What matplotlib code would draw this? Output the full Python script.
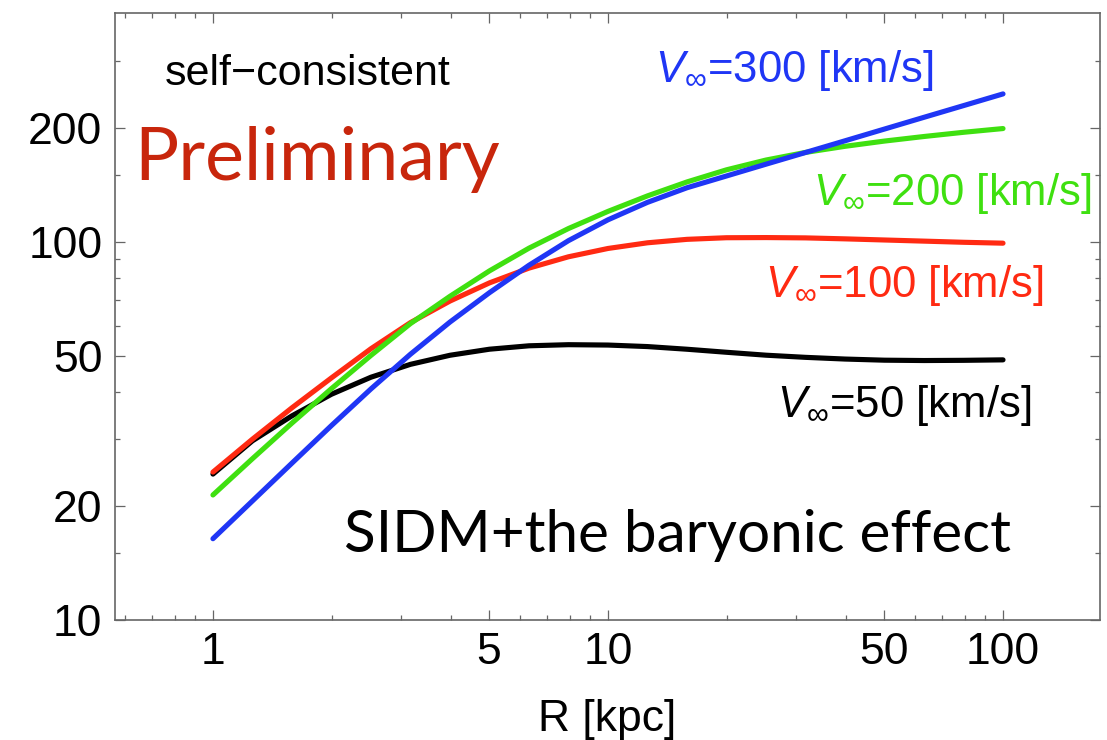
import matplotlib
matplotlib.use("Agg")
import matplotlib.pyplot as plt
from matplotlib.ticker import NullFormatter

plt.rcParams["font.family"] = ["Liberation Sans", "DejaVu Sans"]
plt.rcParams["mathtext.fontset"] = "custom"
plt.rcParams["mathtext.rm"] = "Liberation Sans"
plt.rcParams["mathtext.it"] = "Liberation Sans:italic"
plt.rcParams["mathtext.fallback"] = "stixsans"

# Radius grid [kpc], 0.1 dex steps from 1 to 100 kpc
radius = [1.0, 1.259, 1.585, 1.995, 2.512, 3.162, 3.981, 5.012, 6.310, 7.943, 10.0,
          12.59, 15.85, 19.95, 25.12, 31.62, 39.81, 50.12, 63.10, 79.43, 100.0]

# Circular velocity [km/s] for each asymptotic velocity
v_50 = [24.3, 29.76, 34.64, 39.5, 43.82, 47.39, 50.08, 51.96, 53.05, 53.41, 53.29,
        52.80, 51.95, 51.0, 50.1, 49.45, 48.94, 48.6, 48.5, 48.56, 48.7]
v_100 = [24.6, 30.06, 36.38, 43.64, 52.12, 61.09, 69.65, 77.80, 85.11, 91.19, 95.92,
         99.29, 101.4, 102.4, 102.5, 102.3, 101.7, 101.0, 100.3, 99.6, 99.06]
v_200 = [21.4, 26.69, 33.15, 40.88, 50.04, 60.73, 71.7, 83.7, 96.1, 108.3, 120.2,
         132.1, 143.8, 154.8, 164.3, 172.1, 178.6, 184.4, 189.6, 194.5, 199.0]
v_300 = [16.4, 20.64, 25.98, 32.65, 40.81, 50.4, 61.3, 73.3, 86.6, 100.6, 114.2,
         127.0, 138.8, 149.1, 160.2, 172.0, 184.7, 198.4, 213.1, 228.8, 245.7]

series = [
    (v_50, "black", r"$V_{\infty}$=50 [km/s]"),
    (v_100, "#ff2a12", r"$V_{\infty}$=100 [km/s]"),
    (v_200, "#3fe010", r"$V_{\infty}$=200 [km/s]"),
    (v_300, "#1f36f5", r"$V_{\infty}$=300 [km/s]"),
]

x_major = [1, 5, 10, 50, 100]
x_minor = [0.6, 0.7, 0.8, 0.9, 2, 3, 4, 6, 7, 8, 9, 20, 30, 40, 60, 70, 80, 90]
y_major = [10, 20, 50, 100, 200]
y_minor = [15, 30, 40, 60, 70, 80, 90, 150, 300]

fig = plt.figure(figsize=(11.07, 7.40), dpi=100)
ax = fig.add_axes([115 / 1107, 120 / 740, 985 / 1107, 607 / 740])
ax.set_xscale("log")
ax.set_yscale("log")

for vals, col, _ in series:
    ax.plot(radius, vals, color=col, lw=3.7, solid_capstyle="round",
            solid_joinstyle="round")

ax.set_xlim(0.565, 176)
ax.set_ylim(10, 402)

ax.set_xticks(x_major)
ax.set_xticklabels([str(v) for v in x_major])
ax.set_xticks(x_minor, minor=True)
ax.set_yticks(y_major)
ax.set_yticklabels([str(v) for v in y_major])
ax.set_yticks(y_minor, minor=True)
ax.xaxis.set_minor_formatter(NullFormatter())
ax.yaxis.set_minor_formatter(NullFormatter())

frame_col = "#666666"
for sp in ax.spines.values():
    sp.set_color(frame_col)
    sp.set_linewidth(1.2)
ax.tick_params(which="both", direction="in", top=True, right=True,
               color=frame_col, width=0.9, labelsize=32, labelcolor="black")
ax.tick_params(which="major", length=7.5, pad=9)
ax.tick_params(which="minor", length=3.6)

ax.set_xlabel("R [kpc]", fontsize=32, labelpad=18)

# Annotations, positioned in axes fractions
def at(px, py):
    return ((px - 115) / 985, (620 - py) / 607)

ax.text(*at(165, 85), "self\u2212consistent", transform=ax.transAxes,
        fontsize=31, va="baseline", ha="left")
ax.text(*at(134, 180), "Preliminary", transform=ax.transAxes,
        fontsize=53, va="baseline", ha="left", color="#c8260c", family="Lato")
ax.text(*at(344, 552), "SIDM+the baryonic effect", transform=ax.transAxes,
        fontsize=42, va="baseline", ha="left", color="black", family="Lato")

label_pos = [(777, 417), (765, 297), (813, 205), (655, 82)]
for (vals, col, lab), (px, py) in zip(series, label_pos):
    ax.text(*at(px, py), lab, transform=ax.transAxes, fontsize=31.5,
            va="baseline", ha="left", color=col)

fig.savefig("out.png", dpi=100)
